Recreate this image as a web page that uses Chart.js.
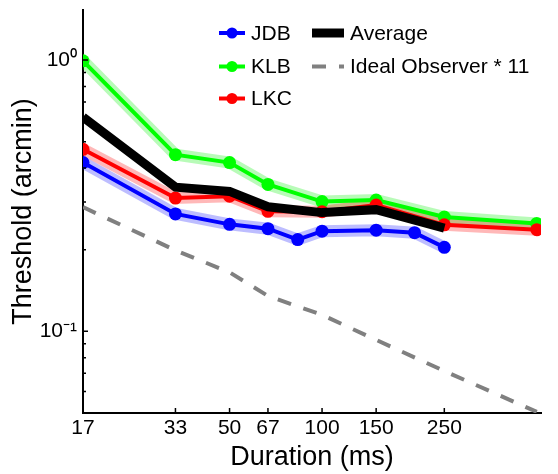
<!DOCTYPE html>
<html>
<head>
<meta charset="utf-8">
<script src="https://cdn.jsdelivr.net/npm/chart.js@4"></script>
<style>
	body { margin: 0; background: #fff; }
	canvas { display: block; }
</style>
</head>
<body>
<canvas id="threshold" width="558" height="474"></canvas>
<script>
/* Data */
var durationTicks = [16.67, 33.33, 50, 66.67, 100, 150, 250];
var durationTickLabels = ["17", "33", "50", "67", "100", "150", "250"];
var thresholdTicks = [0.1, 1];
var thresholdTickLabels = ["10\u207B\u00B9", "10\u2070"];
var thresholdMinorTicks = [0.06, 0.07, 0.08, 0.09, 0.2, 0.3, 0.4, 0.5, 0.6, 0.7, 0.8, 0.9];

var jdbDurations = [16.67, 33.33, 50, 66.67, 83.33, 100, 150, 200, 250];
var jdbThresholds = [0.419, 0.271, 0.248, 0.239, 0.218, 0.234, 0.236, 0.231, 0.204];

var klbDurations = [16.67, 33.33, 50, 66.67, 100, 150, 250, 500];
var klbThresholds = [0.994, 0.448, 0.419, 0.348, 0.301, 0.305, 0.264, 0.250];

var lkcDurations = [16.67, 33.33, 50, 66.67, 100, 150, 250, 500];
var lkcThresholds = [0.469, 0.310, 0.315, 0.277, 0.276, 0.292, 0.247, 0.237];

var avgDurations = [16.67, 33.33, 50, 66.67, 100, 150, 250];
var avgThresholds = [0.616, 0.340, 0.328, 0.288, 0.274, 0.281, 0.240];

var idealDurations = [16.67, 33.33, 50, 66.67, 100, 150, 250, 500];
var idealThresholds = [0.287, 0.199, 0.165, 0.135, 0.115, 0.093, 0.0714, 0.0505];

function points(xs, ys) {
	return xs.map(function (x, i) {
		return { x: x, y: ys[i] };
	});
}

var FONT = "'Liberation Sans', Arial, Helvetica, sans-serif";

/* Legend, drawn in two columns inside the plot like the original */
var legendSpots = {
	"JDB": [219, 33],
	"KLB": [219, 66.5],
	"LKC": [219, 98.5],
	"Average": [312, 33],
	"Ideal Observer * 11": [312, 66.5]
};

var innerLegend = {
	id: "innerLegend",
	afterDraw: function (chart) {
		var ctx = chart.ctx;
		ctx.save();
		chart.data.datasets.forEach(function (ds) {
			var spot = legendSpots[ds.label];
			if (!spot || ds.band) return;
			var x = spot[0], y = spot[1];
			var len = ds.label === "Average" || ds.label === "Ideal Observer * 11" ? 32 : 26;
			ctx.beginPath();
			ctx.setLineDash(ds.borderDash || []);
			ctx.lineWidth = ds.borderWidth;
			ctx.strokeStyle = ds.borderColor;
			ctx.lineCap = "butt";
			ctx.moveTo(x, y);
			ctx.lineTo(x + len, y);
			ctx.stroke();
			ctx.setLineDash([]);
			if (ds.pointRadius) {
				ctx.beginPath();
				ctx.fillStyle = ds.borderColor;
				ctx.arc(x + len / 2, y, 5.5, 0, Math.PI * 2);
				ctx.fill();
			}
			ctx.fillStyle = "#000";
			ctx.font = "21px " + FONT;
			ctx.textBaseline = "middle";
			ctx.fillText(ds.label, x + len + 6, y + 1);
		});
		ctx.restore();
	}
};

/* MATLAB style ticks pointing into the plot */
var inwardTicks = {
	id: "inwardTicks",
	afterDraw: function (chart) {
		var ctx = chart.ctx;
		var xs = chart.scales.x, ys = chart.scales.y;
		var area = chart.chartArea;
		ctx.save();
		ctx.strokeStyle = "#000";
		ctx.lineWidth = 1.5;
		ctx.beginPath();
		durationTicks.forEach(function (v) {
			var px = xs.getPixelForValue(v);
			ctx.moveTo(px, area.bottom);
			ctx.lineTo(px, area.bottom - 5);
		});
		thresholdTicks.forEach(function (v) {
			var py = ys.getPixelForValue(v);
			ctx.moveTo(area.left, py);
			ctx.lineTo(area.left + 5, py);
		});
		thresholdMinorTicks.forEach(function (v) {
			var py = ys.getPixelForValue(v);
			ctx.moveTo(area.left, py);
			ctx.lineTo(area.left + 3, py);
		});
		ctx.stroke();
		ctx.restore();
	}
};

function subject(label, xs, ys, color, order) {
	return {
		label: label,
		data: points(xs, ys),
		borderColor: color,
		backgroundColor: color,
		borderWidth: 4,
		pointRadius: 6.5,
		pointHoverRadius: 6.5,
		pointBorderWidth: 0,
		pointBackgroundColor: color,
		tension: 0,
		order: order
	};
}

function band(label, xs, ys, color, order) {
	return {
		label: label + " band",
		band: true,
		data: points(xs, ys),
		borderColor: color,
		borderWidth: 12,
		pointRadius: 0,
		tension: 0,
		order: order
	};
}

var ctxThreshold = document.getElementById("threshold");

var thresholdChart = new Chart(ctxThreshold, {
	type: "line",
	data: {
		datasets: [
			{
				label: "Average",
				data: points(avgDurations, avgThresholds),
				borderColor: "#000000",
				borderWidth: 9,
				borderCapStyle: "butt",
				borderJoinStyle: "miter",
				pointRadius: 0,
				tension: 0,
				order: 0
			},
			subject("LKC", lkcDurations, lkcThresholds, "#ff0000", 1),
			subject("KLB", klbDurations, klbThresholds, "#00ff00", 2),
			subject("JDB", jdbDurations, jdbThresholds, "#0000ff", 3),
			band("LKC", lkcDurations, lkcThresholds, "rgba(255,0,0,0.28)", 4),
			band("KLB", klbDurations, klbThresholds, "rgba(0,240,0,0.28)", 5),
			band("JDB", jdbDurations, jdbThresholds, "rgba(0,0,255,0.26)", 6),
			{
				label: "Ideal Observer * 11",
				data: points(idealDurations, idealThresholds),
				borderColor: "#808080",
				borderWidth: 4,
				borderDash: [14, 13],
				borderCapStyle: "butt",
				pointRadius: 0,
				tension: 0,
				order: 7
			}
		]
	},
	options: {
		responsive: false,
		animation: false,
		layout: { padding: { top: 10, right: 17, left: 0, bottom: 0 } },
		plugins: {
			legend: { display: false },
			tooltip: { enabled: false }
		},
		scales: {
			x: {
				type: "logarithmic",
				min: 16.67,
				max: 516,
				grid: { display: false, drawTicks: false },
				border: { display: true, color: "#000", width: 2 },
				afterBuildTicks: function (scale) {
					scale.ticks = durationTicks.map(function (v) { return { value: v }; });
				},
				afterFit: function (scale) {
					scale.height = 61;
					scale.paddingLeft = 0;
					scale.paddingRight = 0;
				},
				ticks: {
					autoSkip: false,
					maxRotation: 0,
					padding: 3,
					color: "#000",
					font: { family: FONT, size: 21 },
					callback: function (value, index) { return durationTickLabels[index]; }
				},
				title: {
					display: true,
					text: "Duration (ms)",
					color: "#000",
					font: { family: FONT, size: 27 },
					padding: { top: 0, bottom: 0 }
				}
			},
			y: {
				type: "logarithmic",
				min: 0.05,
				max: 1.53,
				grid: { display: false, drawTicks: false },
				border: { display: true, color: "#000", width: 2 },
				afterBuildTicks: function (scale) {
					scale.ticks = thresholdTicks.map(function (v) { return { value: v }; });
				},
				afterFit: function (scale) {
					scale.width = 83;
					scale.paddingTop = 0;
					scale.paddingBottom = 0;
				},
				ticks: {
					autoSkip: false,
					padding: 6,
					color: "#000",
					font: { family: FONT, size: 21 },
					callback: function (value, index) { return thresholdTickLabels[index]; }
				},
				title: {
					display: true,
					text: "Threshold (arcmin)",
					color: "#000",
					font: { family: FONT, size: 27 },
					padding: { top: 7, bottom: 0 }
				}
			}
		}
	},
	plugins: [inwardTicks, innerLegend]
});
</script>
</body>
</html>
